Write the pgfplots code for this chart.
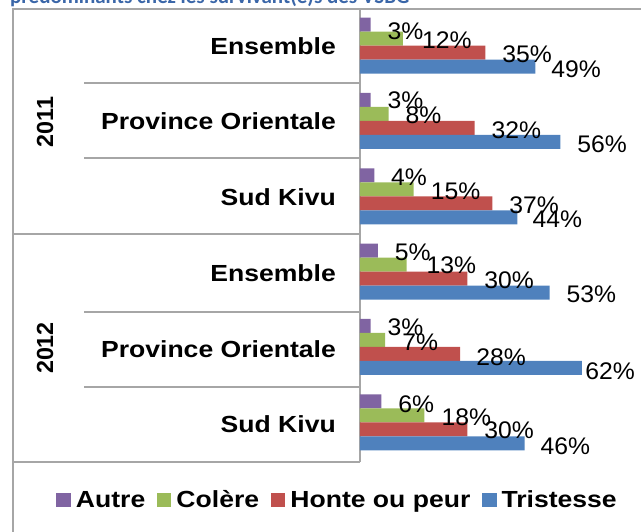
\documentclass[border=0pt]{standalone}
\usepackage{pgfplots}
\usepackage{pgfplotstable}
\pgfplotsset{compat=1.18}
\usepackage{fontspec}
\setmainfont{Liberation Sans}
\newfontfamily\catfam{Liberation Sans}[FakeStretch=1.14]
\newfontfamily\labfam{Liberation Sans}[FakeStretch=1.03]
\newfontfamily\titfam{Carlito}
\newcommand\catfont{\catfam\bfseries\fontsize{23.3}{27}\selectfont}
\newcommand\labfont{\labfam\fontsize{24}{28}\selectfont}
\definecolor{cAutre}{HTML}{8064A2}
\definecolor{cColere}{HTML}{9BBB59}
\definecolor{cHonte}{HTML}{C0504D}
\definecolor{cTrist}{HTML}{4F81BD}
\definecolor{gridgray}{HTML}{A6A6A6}
\definecolor{titblue}{HTML}{3A66A8}
% c: category index (0 = 2011 Ensemble ... 5 = 2012 Sud Kivu); v: percent; dx, dy: label offsets
\pgfplotstableread{
c v dx dy
0 3 16.7 -7
1 3 16.7 0
2 4 16.7 -2.3
3 5 16.7 -1.5
4 3 16.7 -1
5 6 16.7 -2.5
}\tabAutre
\pgfplotstableread{
c v dx dy
0 12 19 -2
1 8 16.7 -1
2 15 17 -2.3
3 13 20 -1
4 7 17 -2
5 18 17 -2
}\tabColere
\pgfplotstableread{
c v dx dy
0 35 17 -2
1 32 17 -2.7
2 37 16.7 -2
3 30 16.7 -1.5
4 28 16 -3
5 30 16.7 -1.3
}\tabHonte
\pgfplotstableread{
c v dx dy
0 49 15.7 -3
1 56 16.7 -2.7
2 44 15 -1.7
3 53 16.7 -1.3
4 62 3.3 -3
5 46 15.7 -3
}\tabTrist
\pgfplotsset{
  labeled/.style={
    draw=none, forget plot,
    visualization depends on={\thisrow{dx} \as \ldx},
    visualization depends on={\thisrow{dy} \as \ldy},
    nodes near coords={\pgfmathprintnumber{\pgfplotspointmeta}\%},
    every node near coord/.append style={anchor=west, xshift=\ldx, yshift=\ldy, font=\labfont, text=black, inner sep=0pt},
  }
}
\begin{document}
\begin{tikzpicture}[x=1pt,y=1pt]
\useasboundingbox (0,0) rectangle (641,532);
% cut-off title
\begin{scope}
\clip (0,524) rectangle (641,532);
\node[anchor=base west, inner sep=0pt, text=titblue, font=\titfam\bfseries\fontsize{21}{25}\selectfont] at (10,528) {prédominants chez les survivant(e)s des VSBG};
\end{scope}
% frame and table lines
\draw[gridgray, line width=1.5pt] (13,0) -- (13,523) -- (641,523);
\draw[gridgray, line width=1.3pt] (360,523) -- (360,70);
\draw[gridgray, line width=1.3pt] (84,449) -- (360,449);
\draw[gridgray, line width=1.3pt] (84,374) -- (360,374);
\draw[gridgray, line width=1.3pt] (13,298) -- (360,298);
\draw[gridgray, line width=1.3pt] (84,220) -- (360,220);
\draw[gridgray, line width=1.3pt] (84,145) -- (360,145);
\draw[gridgray, line width=1.3pt] (13,70) -- (360,70);
% category labels
\node[anchor=base east, inner sep=0pt, font=\catfont] at (336,477) {Ensemble};
\node[anchor=base east, inner sep=0pt, font=\catfont] at (336,402) {Province Orientale};
\node[anchor=base east, inner sep=0pt, font=\catfont] at (336,326) {Sud Kivu};
\node[anchor=base east, inner sep=0pt, font=\catfont] at (336,250) {Ensemble};
\node[anchor=base east, inner sep=0pt, font=\catfont] at (336,174) {Province Orientale};
\node[anchor=base east, inner sep=0pt, font=\catfont] at (336,99) {Sud Kivu};
% year labels
\node[rotate=90, inner sep=0pt, font=\bfseries\fontsize{23.3}{27}\selectfont] at (45,410) {2011};
\node[rotate=90, inner sep=0pt, font=\bfseries\fontsize{23.3}{27}\selectfont] at (45,184) {2012};
\begin{axis}[
  at={(360pt,70pt)}, anchor=south west,
  scale only axis, width=281pt, height=452pt,
  xbar=0pt, bar width=14pt,
  xmin=0, xmax=78.5,
  ymin=-0.473, ymax=5.527, y dir=reverse,
  hide axis,
  clip=false,
  /pgf/number format/assume math mode=true,
  legend columns=4,
  legend image code/.code={\fill[#1] (0pt,-7.3pt) rectangle (14.7pt,7.3pt);},
  legend style={at={(-0.0836,-0.084)}, anchor=center, draw=none, fill=none, font=\catfont,
    inner sep=0pt,
    nodes={inner xsep=0pt, inner ysep=1pt},
    /tikz/every odd column/.append style={column sep=5pt},
    /tikz/every even column/.append style={column sep=11.5pt}},
]
\addplot[fill=cAutre, labeled, bar shift=21pt] table[x=v, y=c] {\tabAutre};
\addplot[fill=cColere, labeled, bar shift=7pt] table[x=v, y=c] {\tabColere};
\addplot[fill=cHonte, labeled, bar shift=-7pt] table[x=v, y=c] {\tabHonte};
\addplot[fill=cTrist, labeled, bar shift=-21pt] table[x=v, y=c] {\tabTrist};
\addlegendimage{fill=cAutre, draw=none}
\addlegendentry{Autre}
\addlegendimage{fill=cColere, draw=none}
\addlegendentry{Colère}
\addlegendimage{fill=cHonte, draw=none}
\addlegendentry{Honte ou peur}
\addlegendimage{fill=cTrist, draw=none}
\addlegendentry{Tristesse}
\end{axis}
\end{tikzpicture}
\end{document}
